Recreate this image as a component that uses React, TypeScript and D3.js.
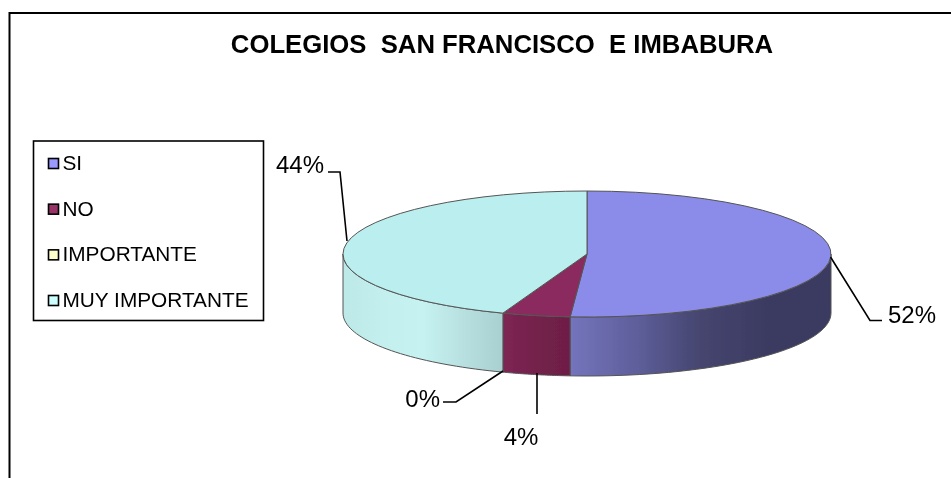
import { useEffect, useRef } from "react";
import * as d3 from "d3";

const titleText = "COLEGIOS  SAN FRANCISCO  E IMBABURA";
const categories = ["SI", "NO", "IMPORTANTE", "MUY IMPORTANTE"];
// slice shares as measured on the drawn ellipse
const shares = [51.1, 4.5, 0, 44.4];
const valueLabels = ["52%", "4%", "0%", "44%"];
const legendColors = ["#9999ff", "#993366", "#ffffcc", "#ccffff"];
const topColors = ["#8b8bea", "#8b2a5e", "#eeeebb", "#bbeeee"];
const wallStops = [
	["#7474bd", "#5f5f9c", "#45456f", "#3b3b62", "#3b3b62"],
	["#7d2652", "#782350", "#74214c", "#702048", "#6e1e46"],
	["#cccc99", "#cccc99", "#cccc99", "#cccc99", "#cccc99"],
	["#bce8e8", "#c4efef", "#c6f2f2", "#b8e0e0", "#a9d0d0"],
];

const width = 951;
const height = 478;
const cx = 587;
const cy = 254;
const rx = 244;
const ry = 63;
const depth = 59;

const px = (a: number) => cx + rx * Math.sin(a);
const py = (a: number) => cy - ry * Math.cos(a);

export default function App() {
	const svgRef = useRef<SVGSVGElement>(null);

	useEffect(() => {
		const svg = d3.select(svgRef.current);
		svg.selectAll("*").remove();
		const font = "'Liberation Sans', Arial, sans-serif";

		const defs = svg.append("defs");
		defs.append("filter")
			.attr("id", "soft")
			.append("feGaussianBlur")
			.attr("stdDeviation", 0.45);

		const root = svg.append("g").attr("filter", "url(#soft)");

		// frame runs off the right and bottom of the picture
		root.append("rect")
			.attr("x", 9.5)
			.attr("y", 13)
			.attr("width", 960)
			.attr("height", 490)
			.attr("fill", "#fff")
			.attr("stroke", "#000")
			.attr("stroke-width", 2);

		root.append("text")
			.attr("x", 502)
			.attr("y", 53)
			.attr("text-anchor", "middle")
			.attr("font-family", font)
			.attr("font-weight", "bold")
			.attr("font-size", 25.7)
			.style("white-space", "pre")
			.text(titleText);

		const arcs = d3
			.pie<number>()
			.sort(null)
			.value((d) => d)(shares);

		// side wall, only the front half of the rim shows
		const rim = d3.line<number>().x(px).y(py);
		const lo = Math.PI / 2;
		const hi = (3 * Math.PI) / 2;
		arcs.forEach((d, i) => {
			const a0 = Math.max(d.startAngle, lo);
			const a1 = Math.min(d.endAngle, hi);
			if (a1 <= a0) return;
			const steps = d3.range(0, 41).map((k) => a0 + ((a1 - a0) * k) / 40);
			const grad = defs
				.append("linearGradient")
				.attr("id", "wall" + i)
				.attr("gradientUnits", "userSpaceOnUse")
				.attr("x1", Math.min(px(a0), px(a1)))
				.attr("x2", Math.max(px(a0), px(a1)))
				.attr("y1", 0)
				.attr("y2", 0);
			wallStops[i].forEach((c, k) => {
				grad.append("stop")
					.attr("offset", k / (wallStops[i].length - 1))
					.attr("stop-color", c);
			});
			const top = rim(steps) as string;
			const bottom = d3
				.line<number>()
				.x(px)
				.y((a) => py(a) + depth)(steps.slice().reverse()) as string;
			root.append("path")
				.attr("d", top + "L" + bottom.slice(1) + "Z")
				.attr("fill", `url(#wall${i})`)
				.attr("stroke", "#555")
				.attr("stroke-width", 1);
		});

		// top face
		const arc = d3.arc<d3.PieArcDatum<number>>().innerRadius(0).outerRadius(rx);
		root.append("g")
			.attr("transform", `translate(${cx},${cy}) scale(1,${ry / rx})`)
			.selectAll("path")
			.data(arcs.filter((d) => d.value > 0))
			.enter()
			.append("path")
			.attr("d", arc)
			.attr("fill", (d) => topColors[d.index])
			.attr("stroke", "#555")
			.attr("stroke-width", 1)
			.attr("vector-effect", "non-scaling-stroke");

		// leader lines
		const leaders: [number, [number, number][], number, number, string][] = [
			[0, [[830.5, 257], [870, 320.5], [882, 320.5]], 888, 323, "start"],
			[1, [[537, 373], [537, 414]], 521, 445, "middle"],
			[2, [[503, 371], [456, 402], [443, 402]], 440, 407, "end"],
			[3, [[347, 241], [340, 172], [328, 172]], 324, 173, "end"],
		];
		const leaderLine = d3.line();
		leaders.forEach(([i, pts, tx, ty, anchor]) => {
			root.append("path")
				.attr("d", leaderLine(pts))
				.attr("fill", "none")
				.attr("stroke", "#000")
				.attr("stroke-width", 1.6);
			root.append("text")
				.attr("x", tx)
				.attr("y", ty)
				.attr("text-anchor", anchor)
				.attr("font-family", font)
				.attr("font-size", 24)
				.text(valueLabels[i]);
		});

		// legend
		root.append("rect")
			.attr("x", 33.5)
			.attr("y", 141)
			.attr("width", 230)
			.attr("height", 179.5)
			.attr("fill", "#fff")
			.attr("stroke", "#000")
			.attr("stroke-width", 1.6);

		const legendY = d3
			.scalePoint<string>()
			.domain(categories)
			.range([163, 300]);

		const item = root
			.selectAll("g.item")
			.data(categories)
			.enter()
			.append("g")
			.attr("class", "item")
			.attr("transform", (d) => `translate(0,${legendY(d)})`);

		item.append("rect")
			.attr("x", 48.5)
			.attr("y", -4.5)
			.attr("width", 10)
			.attr("height", 10)
			.attr("fill", (_, i) => legendColors[i])
			.attr("stroke", "#000")
			.attr("stroke-width", 1.6);

		item.append("text")
			.attr("x", 62.5)
			.attr("y", 7)
			.attr("font-family", font)
			.attr("font-size", 20.8)
			.text((d) => d);
	}, []);

	return (
		<svg
			ref={svgRef}
			width={width}
			height={height}
			style={{ position: "absolute", left: 0, top: 0 }}
		/>
	);
}
